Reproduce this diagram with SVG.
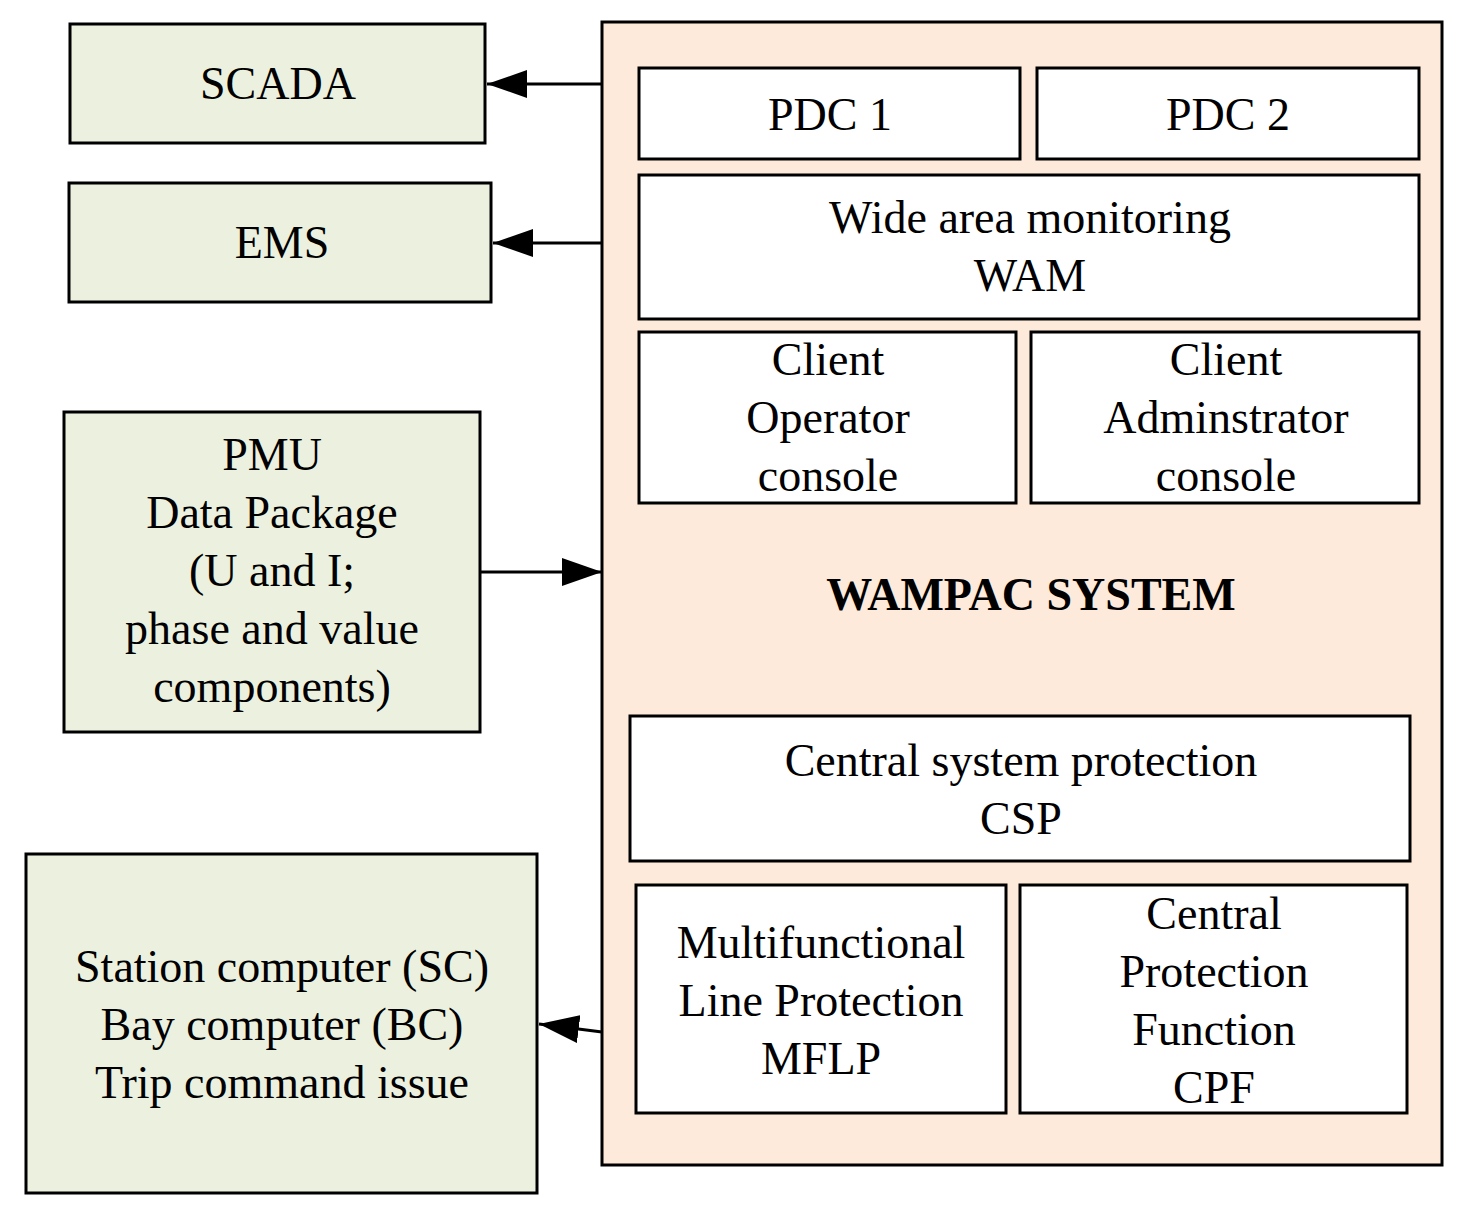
<svg xmlns="http://www.w3.org/2000/svg" width="1461" height="1217" viewBox="0 0 1461 1217">
<defs>
<style>
.g{fill:#ebf1de;stroke:#000;stroke-width:3}
.w{fill:#fff;stroke:#000;stroke-width:3}
.b{fill:#fdeadb;stroke:#000;stroke-width:3}
text{font-family:"Liberation Serif","DejaVu Serif",serif;font-size:46px;text-anchor:middle;fill:#000}
.c line{stroke:#000;stroke-width:3}
</style>
<marker id="a" viewBox="0 0 10 10" refX="10" refY="5" markerWidth="13" markerHeight="10" markerUnits="userSpaceOnUse" orient="auto" preserveAspectRatio="none"><path d="M0,0L10,5L0,10z"/></marker>
<marker id="m" viewBox="0 0 10 10" refX="10" refY="5" markerWidth="40" markerHeight="28" markerUnits="userSpaceOnUse" orient="auto" preserveAspectRatio="none"><path d="M0,0L10,5L0,10z"/></marker>
</defs>
<g id="wampac"><rect class="b" x="602" y="22" width="840" height="1143"/><text x="1031" y="610" font-weight="bold">WAMPAC SYSTEM</text></g>
<g id="scada"><rect class="g" x="70" y="24" width="415" height="119"/><text x="278" y="99">SCADA</text></g>
<g id="ems"><rect class="g" x="69" y="183" width="422" height="119"/><text x="282" y="258">EMS</text></g>
<g id="pmu"><rect class="g" x="64" y="412" width="416" height="320"/><text x="272" y="470">PMU</text><text x="272" y="528">Data Package</text><text x="272" y="586">(U and I;</text><text x="272" y="644">phase and value</text><text x="272" y="702">components)</text></g>
<g id="station"><rect class="g" x="26" y="854" width="511" height="339"/><text x="282" y="982">Station computer (SC)</text><text x="282" y="1040">Bay computer (BC)</text><text x="282" y="1098">Trip command issue</text></g>
<g id="pdc1"><rect class="w" x="639" y="68" width="381" height="91"/><text x="830" y="130">PDC 1</text></g>
<g id="pdc2"><rect class="w" x="1037" y="68" width="382" height="91"/><text x="1228" y="130">PDC 2</text></g>
<g id="wam"><rect class="w" x="639" y="175" width="780" height="144"/><text x="1030" y="233">Wide area monitoring</text><text x="1030" y="291">WAM</text></g>
<g id="op"><rect class="w" x="639" y="332" width="377" height="171"/><text x="828" y="375">Client</text><text x="828" y="433">Operator</text><text x="828" y="491">console</text></g>
<g id="adm"><rect class="w" x="1031" y="332" width="388" height="171"/><text x="1226" y="375">Client</text><text x="1226" y="433">Adminstrator</text><text x="1226" y="491">console</text></g>
<g id="csp"><rect class="w" x="630" y="716" width="780" height="145"/><text x="1021" y="776">Central system protection</text><text x="1021" y="834">CSP</text></g>
<g id="mflp"><rect class="w" x="636" y="885" width="370" height="228"/><text x="821" y="958">Multifunctional</text><text x="821" y="1016">Line Protection</text><text x="821" y="1074">MFLP</text></g>
<g id="cpf"><rect class="w" x="1020" y="885" width="387" height="228"/><text x="1214" y="929">Central</text><text x="1214" y="987">Protection</text><text x="1214" y="1045">Function</text><text x="1214" y="1103">CPF</text></g>
<g class="c" id="connectors">
<line x1="602" y1="84" x2="487" y2="84" marker-end="url(#m)"/>
<line x1="602" y1="243" x2="493" y2="243" marker-end="url(#m)"/>
<line x1="480" y1="572" x2="602" y2="572" marker-end="url(#m)"/>
<line x1="602" y1="1032" x2="539" y2="1024" marker-end="url(#m)"/>
</g>
</svg>
